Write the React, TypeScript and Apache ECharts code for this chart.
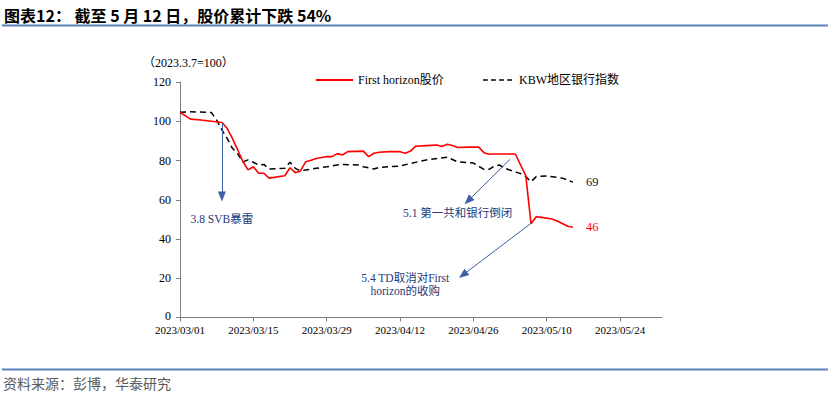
import React, { useEffect, useRef } from "react";
import * as echarts from "echarts";

// ---------- data ----------
const BASE_DATE = "2023-03-01";
const AXIS_END = "2023-06-01";
const tickLabels = ["2023/03/01", "2023/03/15", "2023/03/29", "2023/04/12", "2023/04/26", "2023/05/10", "2023/05/24"];

const fhnDates = [
  "2023-03-01", "2023-03-03", "2023-03-05", "2023-03-07", "2023-03-09", "2023-03-10", "2023-03-11", "2023-03-12",
  "2023-03-13", "2023-03-14", "2023-03-15", "2023-03-16", "2023-03-17", "2023-03-18", "2023-03-21", "2023-03-22",
  "2023-03-23", "2023-03-24", "2023-03-25", "2023-03-26", "2023-03-27", "2023-03-28", "2023-03-29", "2023-03-30",
  "2023-03-31", "2023-04-01", "2023-04-02", "2023-04-05", "2023-04-06", "2023-04-07", "2023-04-08", "2023-04-10",
  "2023-04-12", "2023-04-13", "2023-04-14", "2023-04-15", "2023-04-17", "2023-04-19", "2023-04-20", "2023-04-21",
  "2023-04-22", "2023-04-23", "2023-04-25", "2023-04-27", "2023-04-28", "2023-04-29", "2023-04-30", "2023-05-04",
  "2023-05-06", "2023-05-07", "2023-05-08", "2023-05-09", "2023-05-11", "2023-05-12", "2023-05-14", "2023-05-15",
];
const fhnValues = [
  104.6, 101.1, 100.6, 100.0, 99.4, 96.4, 91.3, 85.5,
  79.5, 75.2, 76.8, 73.5, 73.5, 71.0, 72.2, 76.3,
  73.8, 74.7, 79.4, 80.1, 81.0, 81.5, 82.0, 82.0,
  83.5, 82.8, 84.5, 84.8, 82.0, 83.7, 84.2, 84.5,
  84.5, 83.7, 84.8, 87.3, 87.6, 87.9, 87.1, 88.3,
  87.6, 86.6, 86.8, 86.9, 84.0, 83.2, 83.3, 83.3,
  72.3, 47.8, 51.3, 51.0, 50.2, 49.2, 46.5, 46.0,
];

const kbwDates = [
  "2023-03-01", "2023-03-03", "2023-03-07", "2023-03-08", "2023-03-09", "2023-03-10", "2023-03-11", "2023-03-12",
  "2023-03-13", "2023-03-14", "2023-03-15", "2023-03-16", "2023-03-17", "2023-03-18", "2023-03-21", "2023-03-22",
  "2023-03-23", "2023-03-24", "2023-03-25", "2023-03-27", "2023-03-29", "2023-03-31", "2023-04-01", "2023-04-04",
  "2023-04-05", "2023-04-07", "2023-04-08", "2023-04-10", "2023-04-12", "2023-04-14", "2023-04-17", "2023-04-21",
  "2023-04-23", "2023-04-26", "2023-04-28", "2023-04-29", "2023-04-30", "2023-05-01", "2023-05-02", "2023-05-05",
  "2023-05-06", "2023-05-07", "2023-05-08", "2023-05-10", "2023-05-13", "2023-05-15",
];
const kbwValues = [
  104.6, 104.9, 104.4, 100.6, 95.6, 91.3, 86.2, 83.4,
  79.3, 80.3, 79.1, 77.7, 78.0, 75.7, 76.0, 79.1,
  76.0, 74.7, 75.2, 76.0, 76.8, 77.7, 78.0, 77.7,
  76.8, 75.7, 76.5, 76.8, 77.2, 78.5, 80.3, 81.7,
  79.3, 78.7, 75.5, 75.5, 77.2, 77.7, 76.0, 73.3,
  71.8, 69.2, 71.8, 72.1, 71.0, 69.0,
];

// annotation anchors (date, value)
const arrowSvb = [["2023-03-09", 99.0], ["2023-03-09", 61.6]];
const arrowFrc = [["2023-05-03", 80.6], ["2023-04-25", 59.5]];
const arrowTd = [["2023-05-07", 48.0], ["2023-04-24", 21.7]];
const noteTexts = ["3.8 SVB暴雷", "5.1 第一共和银行倒闭", "5.4 TD取消对First\nhorizon的收购"];
const noteAnchors = [["2023-03-09", 50.0], ["2023-04-23", 53.4], ["2023-04-13", 16.8]];

const seriesNames = ["First horizon股价", "KBW地区银行指数"];

// ---------- helpers ----------
const dayOffset = (s: string) => {
  const [y, m, d] = s.split(/[-/]/).map(Number);
  const [by, bm, bd] = BASE_DATE.split("-").map(Number);
  return (Date.UTC(y, m - 1, d) - Date.UTC(by, bm - 1, bd)) / 86400000;
};

const SERIF = "'Liberation Serif', 'Times New Roman', 'Noto Sans CJK SC', serif";
const NAVY = "#23397A";
const ARROW = "#3F5FA8";
const DASH_ICON = "path://M0,0h6v2h-6z M10,0h6v2h-6z M20,0h6v2h-6z M30,0h6v2h-6z";

export default function App() {
  const ref = useRef<HTMLDivElement>(null);

  useEffect(() => {
    if (!ref.current) return;
    const chart = echarts.init(ref.current, null, { renderer: "svg" });
    const tickVals = tickLabels.map(dayOffset);
    const fhn = fhnDates.map((d, i) => [dayOffset(d), fhnValues[i]]);
    const kbw = kbwDates.map((d, i) => [dayOffset(d), kbwValues[i]]);
    const arrow = (a: (string | number)[][]) => [
      { coord: [dayOffset(a[0][0] as string), a[0][1]] },
      { coord: [dayOffset(a[1][0] as string), a[1][1]] },
    ];

    const option: any = {
      animation: false,
      textStyle: { fontFamily: SERIF },
      grid: { left: 180, top: 82, width: 482, height: 235.5, containLabel: false, outerBoundsMode: "none" },
      xAxis: {
        type: "value",
        min: 0,
        max: dayOffset(AXIS_END),
        interval: 14,
        axisLine: { show: true, lineStyle: { color: "#7f7f7f", width: 1 } },
        axisTick: { show: true, length: 4, customValues: tickVals, lineStyle: { color: "#7f7f7f" } },
        axisLabel: {
          customValues: tickVals,
          formatter: (v: number) => {
            const i = tickVals.indexOf(Math.round(v));
            return i >= 0 ? tickLabels[i] : "";
          },
          fontSize: 11,
          lineHeight: 12,
          color: "#000",
          margin: 6,
          fontFamily: SERIF,
        },
        splitLine: { show: false },
      },
      yAxis: {
        type: "value",
        min: 0,
        max: 120,
        interval: 20,
        axisLine: { show: true, lineStyle: { color: "#7f7f7f", width: 1 } },
        axisTick: { show: true, length: 4, lineStyle: { color: "#7f7f7f" } },
        axisLabel: {
          fontSize: 12,
          lineHeight: 9,
          color: "#000",
          margin: 9,
          fontFamily: SERIF,
          formatter: (v: number) => (v === 0 ? "{z|0}" : String(v)),
          rich: { z: { fontSize: 12, lineHeight: 9, padding: [0, 0, 3, 0], fontFamily: SERIF, color: "#000" } },
        },
        splitLine: { show: false },
      },
      legend: [
        {
          data: [{ name: seriesNames[0], icon: "rect" }],
          left: 316,
          top: 74,
          padding: 0,
          itemWidth: 37,
          itemHeight: 2,
          itemGap: 5,
          textStyle: { fontSize: 12, color: "#000", fontFamily: SERIF },
        },
        {
          data: [{ name: seriesNames[1], icon: DASH_ICON }],
          left: 483,
          top: 74,
          padding: 0,
          itemWidth: 29,
          itemHeight: 2,
          textStyle: { fontSize: 12, color: "#000", fontFamily: SERIF, padding: [0, 0, 0, 2] },
        },
      ],
      series: [
        {
          name: seriesNames[0],
          type: "line",
          data: fhn,
          symbol: "none",
          z: 3,
          lineStyle: { color: "#FF0000", width: 1.6 },
          itemStyle: { color: "#FF0000" },
          endLabel: {
            show: true,
            formatter: (p: any) => String(Math.round(p.value[1])),
            distance: 13,
            color: "#FF0000",
            fontSize: 12.5,
            fontFamily: SERIF,
          },
          markLine: {
            silent: true,
            symbol: ["none", "triangle"],
            symbolSize: [8, 10],
            label: { show: false },
            lineStyle: { color: ARROW, width: 1, type: "solid" },
            data: [arrow(arrowSvb), arrow(arrowFrc), arrow(arrowTd)],
          },
          markPoint: {
            silent: true,
            symbol: "rect",
            symbolSize: 1,
            itemStyle: { color: "rgba(0,0,0,0)" },
            label: {
              show: true,
              position: "inside",
              color: NAVY,
              fontSize: 11.5,
              lineHeight: 13,
              fontFamily: SERIF,
              align: "center",
              verticalAlign: "middle",
            },
            data: noteAnchors.map((a, i) => ({
              coord: [dayOffset(a[0] as string), a[1]],
              label: { formatter: noteTexts[i] },
            })),
          },
        },
        {
          name: seriesNames[1],
          type: "line",
          data: kbw,
          symbol: "none",
          z: 2,
          lineStyle: { color: "#000", width: 1.5, type: [6, 4] },
          itemStyle: { color: "#000" },
          endLabel: {
            show: true,
            formatter: (p: any) => String(Math.round(p.value[1])),
            distance: 13,
            color: "#222",
            fontSize: 12.5,
            fontFamily: SERIF,
          },
        },
      ],
      graphic: [
        {
          type: "text",
          x: 4,
          y: 15,
          style: {
            text: "图表12： 截至 5 月 12 日，股价累计下跌 54%",
            font: "bold 16px 'Noto Sans CJK SC', sans-serif",
            fill: "#000",
            verticalAlign: "middle",
            align: "left",
          },
        },
        {
          type: "line",
          shape: { x1: 2, y1: 25.5, x2: 828, y2: 25.5 },
          style: { stroke: "#5B82BE", lineWidth: 2 },
        },
        {
          type: "text",
          x: 143,
          y: 63,
          style: {
            text: "（2023.3.7=100）",
            font: "12px 'Liberation Serif', 'Noto Sans CJK SC', serif",
            fill: "#000",
            verticalAlign: "middle",
            align: "left",
          },
        },
        {
          type: "line",
          shape: { x1: 2, y1: 369.5, x2: 828, y2: 369.5 },
          style: { stroke: "#5B82BE", lineWidth: 2 },
        },
        {
          type: "text",
          x: 3,
          y: 382.5,
          style: {
            text: "资料来源：彭博，华泰研究",
            font: "14px 'Noto Sans CJK SC', sans-serif",
            fill: "#595959",
            verticalAlign: "middle",
            align: "left",
          },
        },
      ],
    };

    chart.setOption(option);
    return () => chart.dispose();
  }, []);

  return (
    <div
      ref={ref}
      style={{ position: "absolute", left: 0, top: 0, width: 830, height: 397, background: "#fff" }}
    />
  );
}
